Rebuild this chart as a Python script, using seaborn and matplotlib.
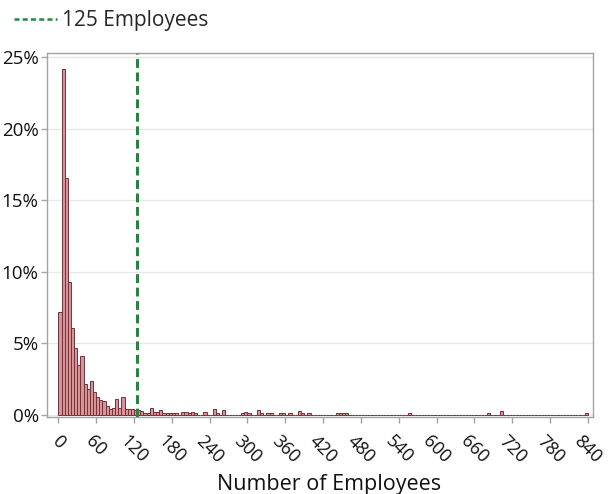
import numpy as np
import pandas as pd
import matplotlib
matplotlib.use("Agg")
import matplotlib.pyplot as plt
from matplotlib.lines import Line2D
from matplotlib.ticker import FuncFormatter
import seaborn as sns

# Share of firms (%) in each 5-employee bin from 0 to 124 employees
head_starts = list(range(0, 125, 5))
head_pct = [7.2, 24.2, 16.6, 9.3, 6.1, 4.7, 3.5, 4.1, 2.2, 1.8,
            2.4, 1.6, 1.25, 1.05, 1.0, 0.65, 0.45, 0.5, 1.15, 0.5,
            1.25, 0.4, 0.4, 0.45, 0.35]

# Sparse tail: bin start (employees) and share of firms (%)
tail_starts = [125, 130, 135, 140, 145, 150, 155, 160, 165, 170,
               175, 180, 185, 195, 200, 205, 210, 215, 230, 245,
               250, 260, 290, 295, 300, 315, 320, 330, 335, 350,
               355, 365, 380, 385, 395, 440, 445, 450, 455, 555,
               680, 700, 835]
tail_pct = [0.35, 0.25, 0.15, 0.15, 0.47, 0.2, 0.2, 0.35, 0.12, 0.12,
            0.12, 0.12, 0.12, 0.23, 0.23, 0.15, 0.23, 0.15, 0.2, 0.45,
            0.15, 0.35, 0.12, 0.23, 0.12, 0.35, 0.12, 0.12, 0.12, 0.12,
            0.12, 0.12, 0.25, 0.12, 0.12, 0.12, 0.15, 0.15, 0.12, 0.15,
            0.12, 0.25, 0.15]

bin_width = 5
max_employees = 840
threshold = 125
threshold_label = "125 Employees"
x_ticks = list(range(0, 841, 60))
y_ticks = [0, 5, 10, 15, 20, 25]
x_label = "Number of Employees"

# Assemble a weighted table: one row per bin, zero where no firms fall
starts = np.arange(0, max_employees, bin_width)
share = pd.Series(0.0, index=starts)
share.loc[head_starts] = head_pct
share.loc[tail_starts] = tail_pct
df = pd.DataFrame({"employees": share.index + bin_width / 2,
                   "pct": share.values})

sns.set_style("white")
plt.rcParams["font.family"] = ["Open Sans", "DejaVu Sans"]

bar_face = "#d39599"
bar_edge = "#7a3036"
line_green = "#1d8a3b"
frame_grey = "#a3a3a3"

fig = plt.figure(figsize=(6.15, 4.94), dpi=100)
ax = fig.add_axes([47 / 615, 1 - 417 / 494, 546 / 615, 364 / 494])

sns.histplot(data=df, x="employees", weights="pct",
             binwidth=bin_width, binrange=(0, max_employees),
             stat="count", ax=ax, color=bar_face, alpha=1,
             edgecolor=bar_edge, linewidth=0.7)

ax.axvline(threshold, color=line_green, lw=2.2, ls=(0, (2.9, 1.5)),
           zorder=3)

ax.set_xlim(-18, 848)
ax.set_ylim(-0.14, 25.31)
ax.set_xticks(x_ticks)
ax.set_yticks(y_ticks)
ax.yaxis.set_major_formatter(FuncFormatter(lambda v, _: f"{v:.0f}%"))

ax.set_axisbelow(True)
ax.yaxis.grid(True, color="#e8e8e8", lw=1.0)
ax.xaxis.grid(False)
for s in ax.spines.values():
    s.set_visible(True)
    s.set_color(frame_grey)
    s.set_linewidth(1.0)

ax.tick_params(axis="both", bottom=True, left=True, direction="out",
               length=4, width=1, color=frame_grey, labelsize=13.5,
               labelcolor="#111111")
ax.tick_params(axis="x", labelsize=13, pad=7)
ax.tick_params(axis="y", pad=2)
for lab in ax.get_xticklabels():
    lab.set_rotation(-45)
    lab.set_ha("center")
    lab.set_va("top")

ax.set_ylabel("")
ax.set_xlabel(x_label, fontsize=15.5, color="#111111")
ax.xaxis.set_label_coords(0.516, -0.156)

handle = Line2D([0], [0], color=line_green, lw=1.8, ls=(0, (2.0, 1.3)))
fig.legend(handles=[handle], labels=[threshold_label], loc="upper left",
           bbox_to_anchor=(14 / 615, 1 - 10 / 494), frameon=False,
           fontsize=15, handlelength=2.05, handletextpad=0.25,
           borderpad=0, borderaxespad=0)

fig.savefig("out.png", dpi=100)
